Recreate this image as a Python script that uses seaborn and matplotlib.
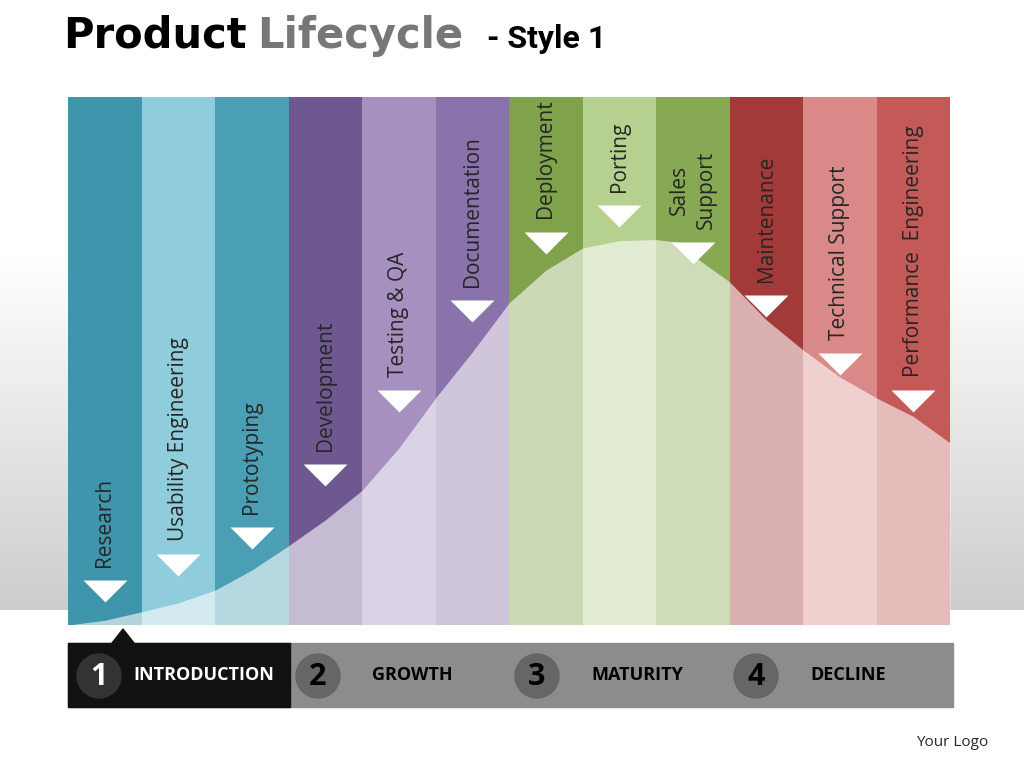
import numpy as np
import matplotlib.pyplot as plt
import seaborn as sns

# ==================== DATA ====================
stages = ["Research", "Usability Engineering", "Prototyping", "Development", "Testing & QA",
          "Documentation", "Deployment", "Porting", "Sales\nSupport", "Maintenance",
          "Technical Support", "Performance  Engineering"]
col_colors = ["#3f95ab", "#8fcddc", "#4b9fb4", "#6f5890", "#a590c0", "#8a72aa",
              "#7fa24a", "#b6d08f", "#87a954", "#a23a3a", "#d98a88", "#c35a58"]
# lifecycle curve height (fraction of column height), read at column edges and centres
curve_x = [-0.5, 0, 0.5, 1, 1.5, 2, 2.5, 3, 3.5, 4, 4.5, 5, 5.5, 6, 6.5, 7, 7.5, 7.8,
           8, 8.5, 9, 9.5, 10, 10.5, 11, 11.5]
curve_y = [0.0, 0.009, 0.025, 0.042, 0.066, 0.104, 0.15, 0.199, 0.255, 0.335, 0.43, 0.517,
           0.61, 0.672, 0.714, 0.728, 0.730, 0.725, 0.70, 0.65, 0.578, 0.521, 0.47, 0.430,
           0.395, 0.345]
# arrow tip height for each stage (fraction of column height)
arrow_y = [0.05, 0.10, 0.15, 0.27, 0.41, 0.58, 0.71, 0.76, 0.69, 0.59, 0.48, 0.41]
phases = ["INTRODUCTION", "GROWTH", "MATURITY", "DECLINE"]
phase_num = ["1", "2", "3", "4"]

sns.set_theme(style="white")
FONT = "Open Sans"
fig = plt.figure(figsize=(10.24, 7.68), dpi=100)

# background in pixel coordinates
bg = fig.add_axes([0, 0, 1, 1])
bg.set_xlim(0, 1024)
bg.set_ylim(768, 0)
bg.axis("off")
grad = np.concatenate([np.ones(250), np.linspace(1, 0.8, 360), np.ones(158)])
bg.imshow(np.tile(grad[:, None], (1, 2)), cmap="gray", vmin=0, vmax=1,
          extent=[0, 1024, 768, 0], aspect="auto", zorder=0)

# title
bg.text(63, 48, "Product", fontsize=30, fontweight="heavy", family="DejaVu Sans", color="black")
bg.text(257, 48, "Lifecycle", fontsize=30, fontweight="heavy", family="DejaVu Sans", color="#777777")
bg.text(487, 48, "- Style 1", fontsize=23, fontweight="bold", family="Roboto", color="black")

# phase bar
bg.add_patch(plt.Rectangle((68, 643), 885, 64, color="#8c8c8c", zorder=1))
bg.add_patch(plt.Rectangle((68, 643), 222, 64, color="#111111", zorder=2))
bg.add_patch(plt.Polygon([[112, 643], [134, 643], [123, 629]], color="#111111", zorder=2))
for i, (n, p) in enumerate(zip(phase_num, phases)):
    cx = 99 + i * 219
    bg.add_patch(plt.Circle((cx, 676), 22, color="#666666" if i else "#333333", zorder=3))
    bg.text(cx, 677, n, fontsize=22, fontweight="bold", color="white" if i == 0 else "black",
            ha="center", va="center", family=FONT, zorder=4)
    bg.text(cx + 34 if i == 0 else cx + 54, 675, p, fontsize=13, fontweight="bold",
            color="white" if i == 0 else "black", ha="left", va="center", family=FONT, zorder=4)
bg.text(988, 742, "Your Logo", fontsize=11, ha="right", va="center", family=FONT)

# columns
ax = fig.add_axes([68 / 1024, (768 - 625) / 768, 882 / 1024, 528 / 768])
sns.barplot(x=list(range(len(stages))), y=[1] * len(stages), hue=list(range(len(stages))),
            palette=col_colors, width=1.0, legend=False, ax=ax, saturation=1, linewidth=0)
ax.fill_between(curve_x, 0, curve_y, color="white", alpha=0.6, lw=0, zorder=3)
tri = [(-1, 0), (1, 0), (0, -1), (-1, 0)]
ax.scatter(range(len(stages)), np.array(arrow_y) + 0.035, marker=tri, s=1000,
           color="white", zorder=4, linewidths=0)
for i, s in enumerate(stages):
    ax.text(i, arrow_y[i] + 0.06, s, rotation=90, ha="center", va="bottom",
            fontsize=15, family=FONT, zorder=5, linespacing=1.4)
ax.set_xlim(-0.5, 11.5)
ax.set_ylim(0, 1)
ax.axis("off")

fig.savefig("out.png", dpi=100)
